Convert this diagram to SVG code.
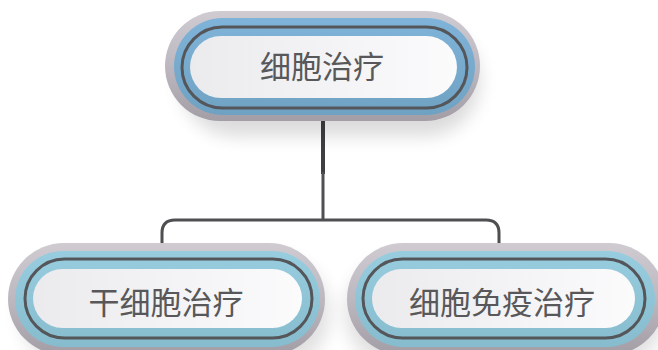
<svg xmlns="http://www.w3.org/2000/svg" width="658" height="350" viewBox="0 0 658 350">
<style>
.outer{fill:url(#gGray)}
.bandTop{fill:url(#gBlueTop)}
.bandChild{fill:url(#gBlueChild)}
.ring{fill:none;stroke:#55565a;stroke-width:3}
.inner{fill:url(#gWhite)}
.lbl{font-family:"Noto Sans CJK SC","Noto Sans",sans-serif;font-size:31px;fill:#58585a;text-anchor:middle;dominant-baseline:central}
.conn{fill:none;stroke:#4f4f52;stroke-width:3}
</style>
<defs>
<linearGradient id="gGray" x1="0" y1="0" x2="0" y2="1">
<stop offset="0" stop-color="#cfcbd1"/>
<stop offset="0.5" stop-color="#bdb8c0"/>
<stop offset="1" stop-color="#a39da6"/>
</linearGradient>
<linearGradient id="gBlueTop" x1="0" y1="0" x2="0" y2="1">
<stop offset="0" stop-color="#7fb3d9"/>
<stop offset="1" stop-color="#6fa2c2"/>
</linearGradient>
<linearGradient id="gBlueChild" x1="0" y1="0" x2="0" y2="1">
<stop offset="0" stop-color="#98cde0"/>
<stop offset="1" stop-color="#86bccd"/>
</linearGradient>
<linearGradient id="gWhite" x1="0" y1="0" x2="1" y2="0">
<stop offset="0" stop-color="#ebeaed"/>
<stop offset="1" stop-color="#fbfbfc"/>
</linearGradient>
<filter id="shadow" x="-20%" y="-30%" width="140%" height="170%">
<feGaussianBlur stdDeviation="9"/>
</filter>
</defs>
<g id="connectors">
<path d="M323 114 V174" fill="none" stroke="#3f3f42" stroke-width="4"/>
<path class="conn" d="M323 172 V220"/>
<path class="conn" d="M162 259 V233 Q162 220 175 220 H486 Q499 220 499 233 V259"/>
</g>
<g id="node-root">
<rect x="180" y="26" width="300" height="110" rx="55" fill="#000" opacity="0.14" filter="url(#shadow)"/>
<rect class="outer" x="165" y="11" width="315" height="110" rx="55"/>
<rect class="bandTop" x="174" y="18" width="301" height="97" rx="48.5"/>
<rect class="ring" x="182" y="27" width="285" height="81" rx="40.5"/>
<rect class="inner" x="190" y="36" width="267" height="62" rx="31"/>
<text class="lbl" x="322" y="64">细胞治疗</text>
</g>
<g id="node-stem">
<rect x="20" y="258" width="310" height="110" rx="55" fill="#000" opacity="0.12" filter="url(#shadow)"/>
<rect class="outer" x="8" y="243" width="317" height="112" rx="56"/>
<rect class="bandChild" x="15" y="251" width="305" height="96" rx="48"/>
<rect class="ring" x="25" y="259" width="287" height="79" rx="39.5"/>
<rect class="inner" x="33" y="269" width="269" height="59" rx="29.5"/>
<text class="lbl" x="166" y="300">干细胞治疗</text>
</g>
<g id="node-immune">
<rect x="345" y="258" width="320" height="110" rx="55" fill="#000" opacity="0.12" filter="url(#shadow)"/>
<rect class="outer" x="347" y="243" width="318" height="112" rx="56"/>
<rect class="bandChild" x="355" y="251" width="300" height="96" rx="48"/>
<rect class="ring" x="363" y="259" width="282" height="79" rx="39.5"/>
<rect class="inner" x="372" y="269" width="263" height="59" rx="29.5"/>
<text class="lbl" x="502" y="300">细胞免疫治疗</text>
</g>
</svg>
